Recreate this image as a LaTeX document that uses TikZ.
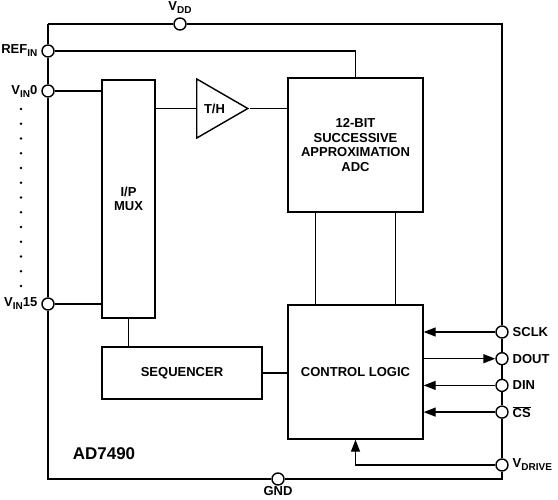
\documentclass[tikz,border=0pt]{standalone}
\usepackage{fontspec}
\setmainfont{Liberation Sans}
\usetikzlibrary{arrows.meta,positioning,shapes.geometric}

\newcommand{\lo}[1]{\raisebox{-3pt}{\fontsize{10}{10}\selectfont #1}}

\begin{document}
\begin{tikzpicture}[
                        x=1pt, y=-1pt,
                        line width=1.4pt,
                        >={Triangle[length=12pt,width=9pt]},
                        node distance=26.7pt,
                        font=\fontsize{13}{14.5}\selectfont\bfseries
                    ]
                    \tikzstyle{block}=[draw,align=center,inner sep=0pt]
                    \tikzstyle{pad}=[circle,draw,fill=white,minimum size=12pt,inner sep=0pt,label distance=2pt]

                    \useasboundingbox (0,0) rectangle (558,500);

                    \node[block,minimum width=53pt,minimum height=238pt]  (mux) at (128.5,199) {I/P\\MUX};
                    \node[block,minimum width=135pt,minimum height=134pt] (adc) at (355.5,145) {12-BIT\\SUCCESSIVE\\APPROXIMATION\\ADC};
                    \node[block,minimum width=135pt,minimum height=134pt] (cl)  at (355.5,372) {CONTROL LOGIC};
                    \node[block,minimum width=160pt,minimum height=52pt]  (seq) at (182,373)   {SEQUENCER};
                    \node[draw,isosceles triangle,isosceles triangle stretches,
                          minimum width=59pt,minimum height=51pt,inner sep=0pt] (th) at (214.5,108.5) {T/H};
                    \node[font=\fontsize{17}{17}\selectfont\bfseries] (part) at (104,454) {AD7490};

                    \node[pad,label=above:{V\lo{DD}}]        (vdd)    at (180,24)  {};
                    \node[pad,label=left:{REF\lo{IN}}]       (refin)  at (48,51)   {};
                    \node[pad,label=left:{V\lo{IN}0}]        (vin0)   at (48,91)   {};
                    \node[pad,label=left:{V\lo{IN}15}]       (vin15)  at (48,304)  {};
                    \node[pad,label=right:SCLK]              (sclk)   at (502,332) {};
                    \node[pad,label=right:DOUT]              (dout)   [below of=sclk] {};
                    \node[pad,label=right:DIN]               (din)    [below of=dout] {};
                    \node[pad,label=right:{$\overline{\mbox{CS}}$}] (cs) [below of=din] {};
                    \node[pad,label=right:{V\lo{DRIVE}}]     (vdrive) at (502,465) {};
                    \node[pad,label={[label distance=-3pt]below:GND}] (gnd) at (278,479) {};

                    \coordinate (tl) at (48,24);
                    \coordinate (tr) at (502,24);
                    \coordinate (br) at (502,479);
                    \coordinate (bl) at (48,479);

                    % package outline
                    \draw (tl) -- (vdd) -- (tr) -- (sclk) -- (dout) -- (din) -- (cs) -- (vdrive)
                          -- (br) -- (gnd) -- (bl) -- (vin15) -- (vin0) -- (refin) -- (tl);

                    \foreach \i in {0,...,12}
                        \fill (21,109+14.75*\i) circle (1.4pt);

                    \path[draw]
                    (refin) -- (refin -| adc.north) -- (adc.north)
                    (vin0)  -- (vin0 -| mux.west)
                    (vin15) -- (vin15 -| mux.west)
                    (th.west -| mux.east) -- (th.west)
                    (th.east) -- (th.east -| adc.west)
                    ([xshift=-40pt]adc.south) -- ([xshift=-40pt]cl.north)
                    ([xshift=40pt]adc.south)  -- ([xshift=40pt]cl.north)
                    (mux.south) -- (mux.south |- seq.north)
                    (seq.east) -- (seq.east -| cl.west) ;

                    \path
                    (sclk)            edge[->] (sclk -| cl.east)
                    (dout -| cl.east) edge[->] (dout)
                    (din)             edge[->] (din -| cl.east)
                    (cs)              edge[->] (cs -| cl.east) ;
                    \draw[->] (vdrive) -| (cl.south);

                \end{tikzpicture}
\end{document}
